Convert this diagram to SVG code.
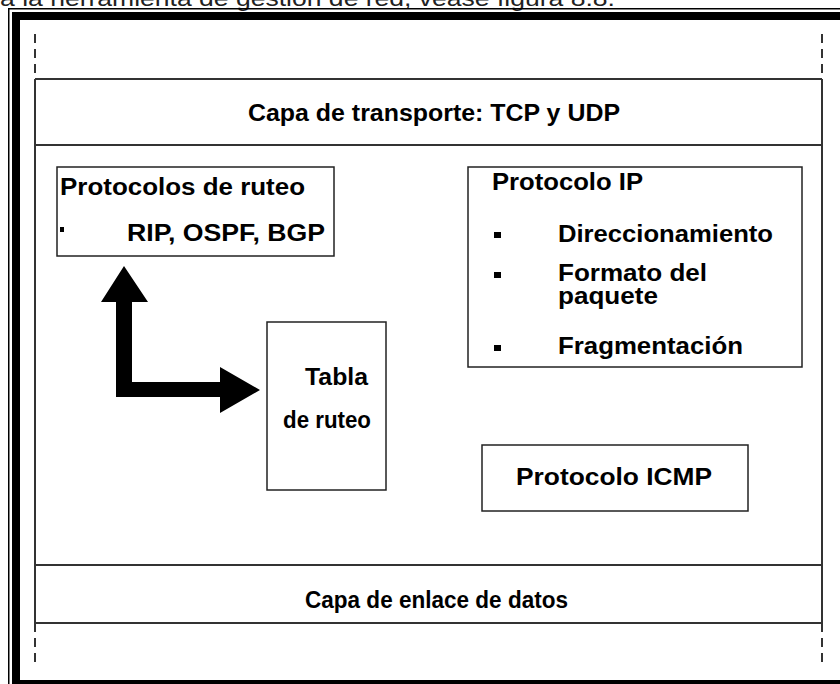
<svg xmlns="http://www.w3.org/2000/svg" width="840" height="684" viewBox="0 0 840 684">
<style>
.t{font-family:"Liberation Sans Narrow","Liberation Sans",Arial,sans-serif;font-weight:bold;font-size:23px;fill:#000}
.layer{stroke:#333;stroke-width:2;fill:none}
.dash{stroke:#333;stroke-width:2;stroke-dasharray:9 6;fill:none}
.box{stroke:#222;stroke-width:1.5;fill:#fff}
.top{font-family:"Liberation Sans",Arial,sans-serif;font-size:22px;fill:#222}
</style>
<rect width="840" height="684" fill="#fff"/>
<text class="top" x="0" y="6" textLength="615" lengthAdjust="spacingAndGlyphs">a la herramienta de gestión de red, véase figura 8.8.</text>
<g id="frame">
<path d="M8.75 684 V8.75 H840" stroke="#000" stroke-width="1.5" fill="none"/>
<path d="M12 684 V12 H840 V20 H20 V680 H840 V684 Z" fill="#000"/>
</g>
<g id="layers">
<line class="dash" x1="35" y1="34" x2="35" y2="79"/>
<line class="dash" x1="822" y1="34" x2="822" y2="79"/>
<line class="dash" x1="35" y1="623" x2="35" y2="665"/>
<line class="dash" x1="822" y1="623" x2="822" y2="665"/>
<line class="layer" x1="35" y1="79" x2="35" y2="623"/>
<line class="layer" x1="822" y1="79" x2="822" y2="623"/>
</g>
<g id="transport">
<line class="layer" x1="35" y1="79" x2="822" y2="79"/>
<line class="layer" x1="35" y1="145" x2="822" y2="145"/>
<text class="t" x="248" y="121" textLength="372" lengthAdjust="spacingAndGlyphs">Capa de transporte: TCP y UDP</text>
</g>
<g id="datalink">
<line class="layer" x1="35" y1="565" x2="822" y2="565"/>
<line class="layer" x1="35" y1="623" x2="822" y2="623"/>
<text class="t" x="305" y="608" textLength="263" lengthAdjust="spacingAndGlyphs">Capa de enlace de datos</text>
</g>
<g id="routing-protocols">
<rect class="box" x="57" y="167" width="277" height="89"/>
<text class="t" x="60" y="195" textLength="245" lengthAdjust="spacingAndGlyphs">Protocolos de ruteo</text>
<rect x="60" y="227" width="4" height="5" fill="#000"/>
<text class="t" x="127" y="241" textLength="198" lengthAdjust="spacingAndGlyphs">RIP, OSPF, BGP</text>
</g>
<g id="ip-protocol">
<rect class="box" x="468" y="167" width="334" height="200"/>
<text class="t" x="492" y="190" textLength="151" lengthAdjust="spacingAndGlyphs">Protocolo IP</text>
<rect x="494" y="232" width="7" height="6" fill="#000"/>
<text class="t" x="558" y="242" textLength="215" lengthAdjust="spacingAndGlyphs">Direccionamiento</text>
<rect x="494" y="272" width="7" height="6" fill="#000"/>
<text class="t" x="558" y="281" textLength="149" lengthAdjust="spacingAndGlyphs">Formato del</text>
<text class="t" x="558" y="304" textLength="100" lengthAdjust="spacingAndGlyphs">paquete</text>
<rect x="494" y="345" width="7" height="6" fill="#000"/>
<text class="t" x="558" y="354" textLength="185" lengthAdjust="spacingAndGlyphs">Fragmentación</text>
</g>
<g id="routing-table">
<rect class="box" x="267" y="322" width="119" height="168"/>
<text class="t" x="305" y="385" textLength="63" lengthAdjust="spacingAndGlyphs">Tabla</text>
<text class="t" x="283" y="428" textLength="88" lengthAdjust="spacingAndGlyphs">de ruteo</text>
</g>
<g id="icmp">
<rect class="box" x="482" y="445" width="266" height="66"/>
<text class="t" x="516" y="485" textLength="196" lengthAdjust="spacingAndGlyphs">Protocolo ICMP</text>
</g>
<g id="connectors">
<path d="M124 266 L148 302 L132 302 L132 382 L220 382 L220 367 L260 390 L220 413 L220 397 L116 397 L116 302 L101 302 Z" fill="#000"/>
</g>
</svg>
